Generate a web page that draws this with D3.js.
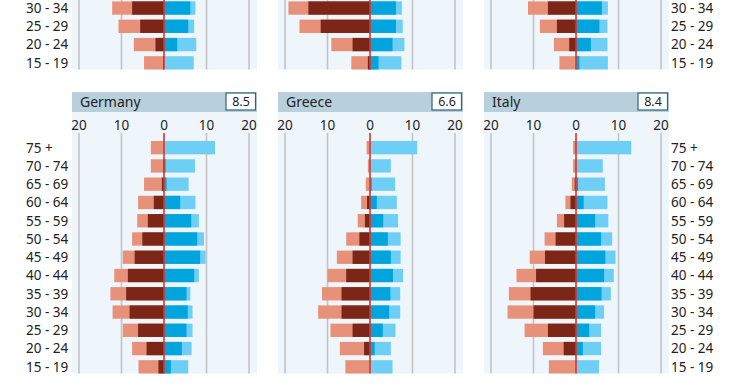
<!DOCTYPE html>
<html>
<head>
<meta charset="utf-8">
<script src="https://cdn.jsdelivr.net/npm/d3@7"></script>
<style>
  body { margin: 0; background: #fff; }
  svg { display: block; font-family: "Noto Sans", sans-serif; }
</style>
</head>
<body>
<script>
// age groups, top to bottom
const ages = ["75 +", "70 - 74", "65 - 69", "60 - 64", "55 - 59", "50 - 54", "45 - 49",
              "40 - 44", "35 - 39", "30 - 34", "25 - 29", "20 - 24", "15 - 19"];
const topAges = ["30 - 34", "25 - 29", "20 - 24", "15 - 19"];

const countries = ["Germany", "Greece", "Italy"];
const scores = [8.5, 6.6, 8.4];
const ticks = [-20, -10, 0, 10, 20];

// bottom row (one value per age group)
const germanyLeftLight  = [3.1, 3.1, 4.7, 6.1, 6.3, 7.5, 9.7, 11.7, 12.6, 12.1, 9.7, 7.5, 6.0];
const germanyLeftDark   = [0, 0.2, 0.5, 2.4, 3.8, 5.1, 6.9, 8.5, 8.9, 8.1, 6.1, 4.1, 1.3];
const germanyRightLight = [12.0, 7.3, 5.8, 7.4, 8.2, 9.4, 9.8, 8.2, 6.2, 6.7, 6.7, 6.5, 5.7];
const germanyRightDark  = [0, 0.4, 0.6, 3.8, 6.4, 7.8, 8.5, 7.1, 5.3, 5.6, 5.3, 4.2, 1.6];

const greeceLeftLight  = [0.8, 0.5, 1.0, 2.1, 2.9, 5.6, 7.8, 10.0, 11.3, 12.2, 9.3, 7.1, 5.8];
const greeceLeftDark   = [0, 0, 0, 0.7, 1.2, 2.5, 4.1, 5.6, 6.7, 6.7, 4.1, 1.4, 0];
const greeceRightLight = [11.1, 4.9, 5.9, 6.3, 6.6, 7.2, 7.2, 7.8, 7.1, 7.1, 6.0, 4.9, 5.3];
const greeceRightDark  = [0, 0, 0.4, 1.6, 3.1, 4.2, 4.9, 5.4, 4.8, 4.5, 3.0, 1.1, 0];

const italyLeftLight  = [0.7, 0.7, 1.0, 2.5, 4.5, 7.4, 10.9, 14.0, 15.8, 16.1, 12.1, 7.8, 6.4];
const italyLeftDark   = [0, 0, 0.3, 1.3, 2.8, 4.8, 7.3, 9.4, 10.7, 10.0, 6.6, 2.9, 0];
const italyRightLight = [13.0, 6.3, 6.8, 7.4, 7.6, 8.5, 9.3, 8.9, 8.2, 6.6, 5.9, 5.9, 5.4];
const italyRightDark  = [0, 0, 0.5, 1.8, 4.5, 5.9, 6.9, 6.6, 6.0, 4.5, 3.1, 1.6, 0];

// top row, only the youngest groups are in view
const topALeftLight  = [12.2, 10.7, 7.1, 4.7];
const topALeftDark   = [7.5, 5.6, 2.0, 0.2];
const topARightLight = [7.4, 7.1, 7.6, 7.0];
const topARightDark  = [6.2, 5.7, 3.1, 0];

const topBLeftLight  = [19.2, 16.6, 9.1, 4.4];
const topBLeftDark   = [14.5, 11.6, 4.1, 0.5];
const topBRightLight = [7.5, 7.7, 8.1, 7.4];
const topBRightDark  = [6.1, 6.1, 5.3, 2.0];

const topCLeftLight  = [11.3, 8.5, 5.2, 3.9];
const topCLeftDark   = [6.6, 4.5, 1.6, 0];
const topCRightLight = [7.5, 7.4, 7.4, 7.5];
const topCRightDark  = [6.1, 5.5, 3.5, 0.8];

const bottomPanels = [
  [germanyLeftLight, germanyLeftDark, germanyRightLight, germanyRightDark],
  [greeceLeftLight, greeceLeftDark, greeceRightLight, greeceRightDark],
  [italyLeftLight, italyLeftDark, italyRightLight, italyRightDark]
];
const topPanels = [
  [topALeftLight, topALeftDark, topARightLight, topARightDark],
  [topBLeftLight, topBLeftDark, topBRightLight, topBRightDark],
  [topCLeftLight, topCLeftDark, topCRightLight, topCRightDark]
];

const W = 740, H = 389;
const C = {
  header: "#b8d0db", bg: "#eef6fc", grid: "#c2c4c6", zero: "#e0322a",
  leftLight: "#e8917a", leftDark: "#7b2617", rightLight: "#6dcff6", rightDark: "#00a5dd",
  text: "#222", box: "#2f6377"
};

const svg = d3.select("body").append("svg").attr("width", W).attr("height", H);

const px = d3.scaleBand().domain([0, 1, 2]).range([72, 669]).paddingInner(0.102).paddingOuter(0);
const pw = px.bandwidth();
const y = d3.scaleBand().domain(ages).range([141, 373.5]).paddingInner(0.27).paddingOuter(0);

function drawPanel(g, i, rowAges, series, leftLabels, rightLabels, showTicks) {
  const x0 = px(i);
  const x = d3.scaleLinear().domain([-20, 20]).range([x0 + 7, x0 + 177]);

  g.append("rect").attr("x", x0).attr("y", 112).attr("width", pw).attr("height", 373.5 - 112)
    .attr("fill", C.bg);

  g.selectAll(".grid").data(ticks.filter(t => t !== 0)).join("line")
    .attr("x1", d => x(d)).attr("x2", d => x(d))
    .attr("y1", 133).attr("y2", 373.5)
    .attr("stroke", C.grid).attr("stroke-width", 1.6);

  if (showTicks) {
    g.selectAll(".tick").data(ticks).join("text")
      .attr("x", d => x(d)).attr("y", 130)
      .attr("text-anchor", "middle").attr("font-size", 13.5).attr("fill", C.text)
      .text(d => Math.abs(d));
  }

  const rows = rowAges.map((a, k) => ({
    age: a, ll: series[0][k], ld: series[1][k], rl: series[2][k], rd: series[3][k]
  }));

  const bars = [
    ["ll", C.leftLight, -1], ["ld", C.leftDark, -1],
    ["rl", C.rightLight, 1], ["rd", C.rightDark, 1]
  ];
  bars.forEach(([key, col, side]) => {
    g.selectAll(".b-" + key).data(rows).join("rect")
      .attr("x", d => side < 0 ? x(-d[key]) : x(0))
      .attr("width", d => Math.abs(x(side * d[key]) - x(0)))
      .attr("y", d => y(d.age)).attr("height", y.bandwidth())
      .attr("fill", col);
  });

  g.append("line").attr("x1", x(0)).attr("x2", x(0)).attr("y1", 133).attr("y2", 373.5)
    .attr("stroke", C.zero).attr("stroke-width", 1.6);

  if (leftLabels) {
    g.selectAll(".agel").data(rowAges).join("text")
      .attr("x", 26).attr("y", d => y(d) + y.bandwidth() / 2)
      .attr("dy", "0.36em").attr("font-size", 13.5).attr("fill", C.text)
      .text(d => d);
  }
  if (rightLabels) {
    g.selectAll(".ager").data(rowAges).join("text")
      .attr("x", 671).attr("y", d => y(d) + y.bandwidth() / 2)
      .attr("dy", "0.36em").attr("font-size", 13.5).attr("fill", C.text)
      .text(d => d);
  }
}

// top row, shifted up so only its lower part shows (its ticks are out of view)
const topRow = svg.append("g").attr("transform", "translate(0,-304)");
topPanels.forEach((s, i) => drawPanel(topRow.append("g"), i, topAges, s, i === 0, i === 2, false));

// bottom row
const bottomRow = svg.append("g");
bottomPanels.forEach((s, i) => {
  const g = bottomRow.append("g");
  drawPanel(g, i, ages, s, i === 0, i === 2, true);
  const x0 = px(i);
  g.append("rect").attr("x", x0).attr("y", 92).attr("width", pw).attr("height", 20)
    .attr("fill", C.header);
  g.append("text").attr("x", x0 + 8).attr("y", 107).attr("font-size", 14)
    .attr("fill", C.text).text(countries[i]);
  g.append("rect").attr("x", x0 + 154).attr("y", 93).attr("width", 29.5).attr("height", 17)
    .attr("fill", "#fff").attr("stroke", C.box).attr("stroke-width", 1.2);
  g.append("text").attr("x", x0 + 169).attr("y", 106).attr("text-anchor", "middle")
    .attr("font-size", 12.5).attr("fill", C.text).text(scores[i].toFixed(1));
});
</script>
</body>
</html>
